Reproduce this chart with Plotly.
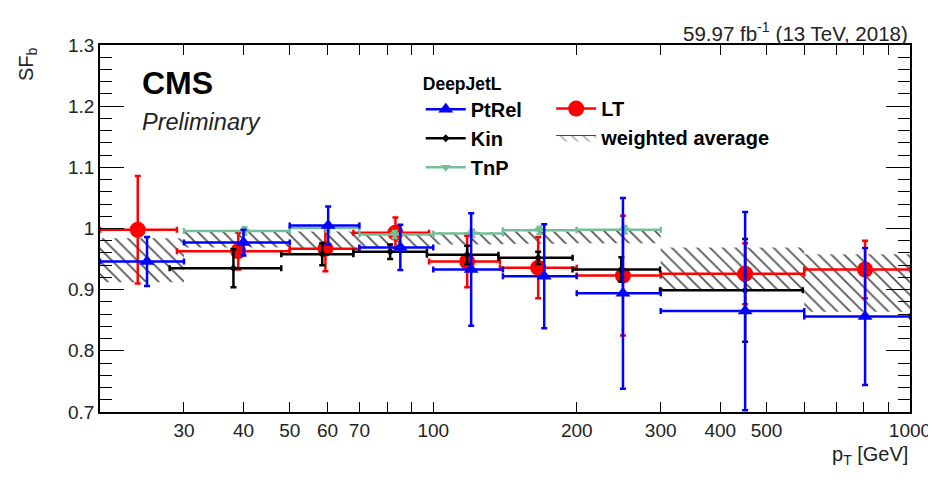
import plotly.graph_objects as go

# ---------------- data ----------------
# LT (red circles)
lt_pt = [24.0, 39.0, 59.4, 83.3, 117.8, 166.0, 250.0, 451.0, 805.0]
lt_lo = [20, 29, 50, 68, 98, 138, 200, 300, 600]
lt_hi = [29, 50, 70, 98, 138, 200, 300, 600, 1000]
lt_sf = [0.998, 0.963, 0.967, 0.993, 0.946, 0.936, 0.923, 0.926, 0.933]
lt_err = [0.088, 0.030, 0.037, 0.025, 0.042, 0.050, 0.098, 0.050, 0.047]

# PtRel (blue triangles)
pr_pt = [25.1, 40.0, 60.2, 85.3, 120.1, 170.9, 250.0, 451.0, 805.0]
pr_lo = [20, 30, 50, 70, 100, 140, 200, 300, 600]
pr_hi = [30, 50, 70, 100, 140, 200, 300, 600, 1000]
pr_sf = [0.946, 0.977, 1.005, 0.969, 0.933, 0.922, 0.894, 0.865, 0.856]
pr_err = [0.040, 0.021, 0.031, 0.037, 0.092, 0.085, 0.156, 0.162, 0.112]

# Kin (black)
kin_pt = [38.1, 58.5, 81.2, 117.8, 166.0, 248.0, 451.0]
kin_lo = [28, 48, 68, 97, 137, 196, 299]
kin_hi = [48, 68, 97, 137, 196, 299, 596]
kin_sf = [0.935, 0.958, 0.962, 0.957, 0.952, 0.933, 0.899]
kin_err = [0.031, 0.018, 0.012, 0.015, 0.010, 0.020, 0.084]

# TnP (green)
tnp_pt = [40.2, 60.0, 83.0, 120.7, 167.0, 252.0]
tnp_lo = [30, 50, 70, 100, 140, 200]
tnp_hi = [50, 70, 100, 140, 200, 300]
tnp_sf = [0.996, 1.001, 0.990, 0.992, 0.997, 0.998]
tnp_err = [0.006, 0.006, 0.006, 0.006, 0.006, 0.006]

# weighted average (hatched band)
wa_lo = [20, 30, 50, 70, 100, 140, 200, 300, 600]
wa_hi = [30, 50, 70, 100, 140, 200, 300, 600, 1000]
wa_sf = [0.948, 0.982, 0.980, 0.980, 0.984, 0.985, 0.987, 0.934, 0.911]
wa_unc = [0.036, 0.013, 0.015, 0.010, 0.010, 0.010, 0.011, 0.035, 0.047]

x_tickvals = [30, 40, 50, 60, 70, 80, 90, 100, 200, 300, 400, 500, 600, 700, 800, 900, 1000]
x_ticktext = ["30", "40", "50", "60", "70", "", "", "100", "200", "300", "400", "500", "", "", "", "", "1000"]

FONT = "Liberation Sans, Arial, Helvetica, sans-serif"
RED, BLUE, BLACK, GREEN = "#ff0000", "#0000ff", "#000000", "#74bf98"

fig = go.Figure()

# weighted-average hatched boxes
wx, wy = [], []
for lo, hi, c, u in zip(wa_lo, wa_hi, wa_sf, wa_unc):
    wx += [lo, hi, hi, lo, lo, None]
    wy += [c - u, c - u, c + u, c + u, c - u, None]
fig.add_trace(go.Scatter(
    x=wx, y=wy, mode="lines", fill="toself", line=dict(width=0, color="rgba(0,0,0,0)"),
    fillcolor="rgba(0,0,0,0)",
    fillpattern=dict(shape="\\", fgcolor="#555555", bgcolor="rgba(0,0,0,0)", size=9, solidity=0.2, fillmode="replace"),
    showlegend=False, hoverinfo="skip"))


def series(pt, lo, hi, sf, err, color, symbol, size, thick, cap):
    return go.Scatter(
        x=pt, y=sf, mode="markers",
        marker=dict(color=color, symbol=symbol, size=size, line=dict(width=0)),
        error_x=dict(type="data", symmetric=False,
                     array=[h - p for h, p in zip(hi, pt)],
                     arrayminus=[p - l for p, l in zip(pt, lo)],
                     color=color, thickness=thick, width=cap),
        error_y=dict(type="data", array=err, color=color, thickness=thick, width=cap),
        showlegend=False)


fig.add_trace(series(lt_pt, lt_lo, lt_hi, lt_sf, lt_err, RED, "circle", 16, 2.5, 3))
fig.add_trace(series(kin_pt, kin_lo, kin_hi, kin_sf, kin_err, BLACK, "diamond", 6, 2.5, 3))
fig.add_trace(series(tnp_pt, tnp_lo, tnp_hi, tnp_sf, tnp_err, GREEN, "triangle-down", 9, 2.5, 3))
fig.add_trace(series(pr_pt, pr_lo, pr_hi, pr_sf, pr_err, BLUE, "triangle-up", 13, 2.5, 3))

# legend entries
def leg(name, color, symbol, size, legend):
    return go.Scatter(x=[None], y=[None], mode="lines+markers", name=name,
                      line=dict(color=color, width=2.5),
                      marker=dict(color=color, symbol=symbol, size=size), legend=legend)

fig.add_trace(leg("PtRel", BLUE, "triangle-up", 13, "legend"))
fig.add_trace(leg("Kin", BLACK, "diamond", 6, "legend"))
fig.add_trace(leg("TnP", GREEN, "triangle-down", 9, "legend"))
fig.add_trace(leg("LT", RED, "circle", 16, "legend2"))
fig.add_trace(go.Scatter(
    x=[None], y=[None], mode="lines", name="weighted average", fill="toself",
    line=dict(color="#444444", width=1), fillcolor="rgba(0,0,0,0)",
    fillpattern=dict(shape="\\", fgcolor="#555555", bgcolor="rgba(0,0,0,0)", size=8, solidity=0.2),
    legend="legend2"))

axis_common = dict(showline=True, linecolor="black", linewidth=1.5, mirror="ticks",
                   ticks="inside", tickcolor="black", showgrid=False, zeroline=False,
                   automargin=False,
                   tickfont=dict(family=FONT, size=19, color="#222"))

fig.update_layout(
    width=928, height=474,
    margin=dict(l=92, r=26, t=37, b=70),
    paper_bgcolor="white", plot_bgcolor="white",
    xaxis=dict(type="log", range=[1.30103, 3.0], tickvals=x_tickvals, ticktext=x_ticktext,
               ticklen=10, tickwidth=1.2, **axis_common),
    yaxis=dict(range=[0.7, 1.3], tick0=0.7, dtick=0.1, ticklen=24, tickwidth=1.2,
               minor=dict(dtick=0.02, ticklen=12, ticks="inside", tickcolor="black", tickwidth=1.2),
               **axis_common),
    legend=dict(x=0.396, y=0.94, xanchor="left", yanchor="top", bgcolor="rgba(0,0,0,0)",
                font=dict(family=FONT, size=20, color="black", weight="bold"),
                title=dict(text="<b>DeepJetL</b>", font=dict(family=FONT, size=17.5, color="black")),
                itemwidth=40, tracegroupgap=0),
    legend2=dict(x=0.557, y=0.88, xanchor="left", yanchor="top", bgcolor="rgba(0,0,0,0)",
                 font=dict(family=FONT, size=20, color="black", weight="bold"),
                 itemwidth=40),
    annotations=[
        dict(text="<b>CMS</b>", xref="paper", yref="paper", x=0.049, y=0.896, xanchor="left", yanchor="middle",
             showarrow=False, font=dict(family=FONT, size=32, color="black")),
        dict(text="<i>Preliminary</i>", xref="paper", yref="paper", x=0.049, y=0.79, xanchor="left", yanchor="middle",
             showarrow=False, font=dict(family=FONT, size=23.5, color="#222")),
        dict(text="59.97 fb<sup>-1</sup> (13 TeV, 2018)", xref="paper", yref="paper", x=1.0, y=1.035,
             xanchor="right", yanchor="middle", showarrow=False, font=dict(family=FONT, size=20.5, color="#222")),
        dict(text="p<sub>T</sub> [GeV]", xref="paper", yref="paper", x=1.0, y=-0.08,
             xanchor="right", yanchor="top", showarrow=False, font=dict(family=FONT, size=20, color="#222")),
        dict(text="SF<sub>b</sub>", xref="paper", yref="paper", x=-0.09, y=1.0, textangle=-90,
             xanchor="center", yanchor="top", showarrow=False, font=dict(family=FONT, size=20, color="#222")),
    ],
)

fig.write_html("out.html")
